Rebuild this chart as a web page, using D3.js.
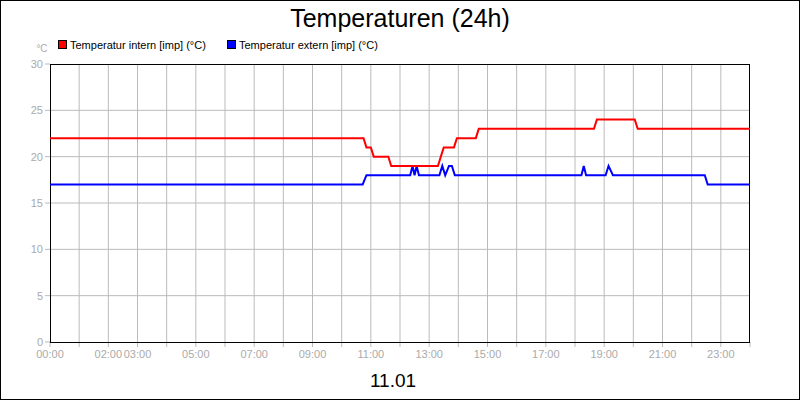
<!DOCTYPE html>
<html><head><meta charset="utf-8">
<script src="https://cdn.jsdelivr.net/npm/d3@7"></script>
<style>body{margin:0}svg{font-family:"Liberation Sans",Arial,sans-serif}</style>
</head><body><div id="chart"></div>
<script>
const yTicks = [0, 5, 10, 15, 20, 25, 30];
const xLabelHours = [0, 2, 3, 5, 7, 9, 11, 13, 15, 17, 19, 21, 23];
const intern = [[0,22],[10.75,22],[10.85,21],[11.0,21],[11.1,20],[11.6,20],[11.7,19],[13.3,19],[13.4,20],[13.5,21],[13.85,21],[13.95,22],[14.6,22],[14.7,23],[18.65,23],[18.75,24],[20.05,24],[20.15,23],[24,23]];
const extern = [[0,17],[10.72,17],[10.85,18],[12.35,18],[12.43,19],[12.5,18],[12.57,19],[12.65,18],[13.35,18],[13.45,19],[13.55,18],[13.68,19],[13.78,19],[13.88,18],[18.22,18],[18.3,19],[18.38,18],[19.05,18],[19.15,19],[19.3,18],[22.45,18],[22.55,17],[24,17]];

const W = 800, H = 400, m = {l: 50, r: 750, t: 64, b: 342};
const svg = d3.select("#chart").append("svg").attr("width", W).attr("height", H);
svg.append("rect").attr("x", 0.5).attr("y", 0.5).attr("width", W - 1).attr("height", H - 1)
  .attr("fill", "#fff").attr("stroke", "#000");

const x = d3.scaleLinear().domain([0, 24]).range([m.l, m.r]);
const y = d3.scaleLinear().domain([0, 30]).range([m.b, m.t]);
const grey = "#bbb";

// grid
svg.append("g").selectAll("line").data(d3.range(1, 24)).join("line")
  .attr("x1", d => x(d)).attr("x2", d => x(d)).attr("y1", m.t).attr("y2", m.b + 5)
  .attr("stroke", grey);
svg.append("g").selectAll("line").data(yTicks.slice(1, -1)).join("line")
  .attr("x1", m.l - 5).attr("x2", m.r).attr("y1", d => y(d)).attr("y2", d => y(d))
  .attr("stroke", grey);
svg.append("g").selectAll("line").data([0, 30]).join("line")
  .attr("x1", m.l - 5).attr("x2", m.l).attr("y1", d => y(d)).attr("y2", d => y(d))
  .attr("stroke", grey);
svg.append("g").selectAll("line").data([0, 24]).join("line")
  .attr("x1", d => x(d)).attr("x2", d => x(d)).attr("y1", m.b).attr("y2", m.b + 5)
  .attr("stroke", grey);

svg.append("rect").attr("x", m.l + 0.5).attr("y", m.t + 0.5)
  .attr("width", m.r - m.l - 1).attr("height", m.b - m.t)
  .attr("fill", "none").attr("stroke", "#000");

svg.append("g").selectAll("text").data(yTicks).join("text")
  .attr("x", m.l - 7).attr("y", d => y(d) + 4).attr("text-anchor", "end")
  .attr("font-size", 11).attr("fill", "#aaa").text(d => d);
svg.append("g").selectAll("text").data(xLabelHours).join("text")
  .attr("x", d => x(d)).attr("y", m.b + 16).attr("text-anchor", "middle")
  .attr("font-size", 11).attr("fill", "#aaa").text(d => String(d).padStart(2, "0") + ":00");

svg.append("text").attr("x", 42).attr("y", 52).attr("text-anchor", "middle")
  .attr("font-size", 10).attr("fill", "#aaa").text("°C");

const line = d3.line().x(d => x(d[0])).y(d => y(d[1]));
svg.append("path").datum(extern).attr("d", line).attr("fill", "none")
  .attr("stroke", "#0000ff").attr("stroke-width", 2);
svg.append("path").datum(intern).attr("d", line).attr("fill", "none")
  .attr("stroke", "#ff0000").attr("stroke-width", 2);

const legend = [["Temperatur intern [imp] (°C)", "#ff0000", 58], ["Temperatur extern [imp] (°C)", "#0000ff", 227]];
const lg = svg.append("g").selectAll("g").data(legend).join("g");
lg.append("rect").attr("x", d => d[2] + 0.5).attr("y", 40.5).attr("width", 8).attr("height", 8)
  .attr("fill", d => d[1]).attr("stroke", "#000");
lg.append("text").attr("x", d => d[2] + 12).attr("y", 49).attr("font-size", 11).text(d => d[0]);

svg.append("text").attr("x", 400).attr("y", 27).attr("text-anchor", "middle")
  .attr("font-size", 25).text("Temperaturen (24h)");
svg.append("text").attr("x", 393).attr("y", 387).attr("text-anchor", "middle")
  .attr("font-size", 19).text("11.01");
</script></body></html>
